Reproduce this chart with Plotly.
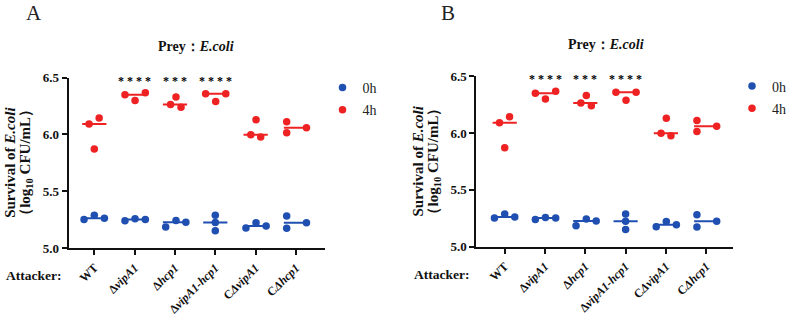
import numpy as np
import plotly.graph_objects as go

# ---------------- data ----------------
categories = ["WT", "ΔvipA1", "Δhcp1", "ΔvipA1-hcp1", "CΔvipA1", "CΔhcp1"]
tick_labels = ["WT", "Δ<i>vipA1</i>", "Δ<i>hcp1</i>", "Δ<i>vipA1-hcp1</i>",
               "C<i>ΔvipA1</i>", "C<i>Δhcp1</i>"]

values_0h = [
    [5.252, 5.288, 5.261],
    [5.240, 5.258, 5.252],
    [5.185, 5.243, 5.226],
    [5.288, 5.225, 5.152],
    [5.176, 5.222, 5.193],
    [5.281, 5.173, 5.223],
]
values_4h = [
    [6.092, 6.145, 5.872],
    [6.350, 6.300, 6.368],
    [6.265, 6.330, 6.240],
    [6.359, 6.290, 6.359],
    [5.998, 6.130, 5.977],
    [6.112, 6.015, 6.060],
]
significance = ["", "****", "***", "****", "", ""]
series_names = ["0h", "4h"]
y_ticks = [5.0, 5.5, 6.0, 6.5]
y_tick_labels = ["5.0", "5.5", "6.0", "6.5"]

# ---------------- layout constants (positions / styles) ----------------
W, H = 786, 316
offsets_0h = [
    [-0.255, 0.0, 0.25],
    [-0.24, 0.01, 0.265],
    [-0.23, 0.025, 0.27],
    [0.0, 0.0, 0.0],
    [-0.24, 0.01, 0.26],
    [-0.23, -0.23, 0.26],
]
offsets_4h = [
    [-0.13, 0.12, 0.0],
    [-0.24, 0.01, 0.265],
    [-0.11, 0.025, 0.15],
    [-0.24, 0.01, 0.26],
    [-0.12, 0.01, 0.125],
    [-0.23, -0.23, 0.26],
]
MED_HALF = 0.3
BLUE = "#1f4fb0"
RED = "#ee2222"
SERIF = "Liberation Serif"

panels = [
    dict(xdom=(68.7, 325.0), ybot=248.0, ytop=77.7, xr=(-0.635, 5.72),
         letter="A", letter_xy=(33.5, 13), title_xy=(195.7, 46.7),
         attacker_xy=(33, 275), ytitle_x=(10, 26), legend_xy=(322.5, 72)),
    dict(xdom=(476.3, 733.0), ybot=246.7, ytop=76.3, xr=(-0.705, 5.665),
         letter="B", letter_xy=(448, 13), title_xy=(606.3, 45),
         attacker_xy=(441.5, 274), ytitle_x=(418, 434), legend_xy=(732, 70.5)),
]


def centered(x_px, y_px, text, size, angle=0, color="#111"):
    return dict(x=x_px / W, y=1 - y_px / H, xref="paper", yref="paper",
                xanchor="center", yanchor="middle", text=text, showarrow=False,
                textangle=angle, font=dict(family=SERIF, size=size, color=color))


fig = go.Figure()
annotations = []
layout_axes = {}

for p_i, P in enumerate(panels):
    sfx = "" if p_i == 0 else str(p_i + 1)
    xa, ya = "x" + sfx, "y" + sfx
    legend_name = "legend" if p_i == 0 else "legend2"
    for s_name, vals, offs, col in [("0h", values_0h, offsets_0h, BLUE),
                                    ("4h", values_4h, offsets_4h, RED)]:
        xs, ys = [], []
        lx, ly = [], []
        for ci, (vv, oo) in enumerate(zip(vals, offs)):
            for v, o in zip(vv, oo):
                xs.append(ci + o)
                ys.append(v)
            med = float(np.median(vv))
            lx += [ci - MED_HALF, ci + MED_HALF, None]
            ly += [med, med, None]
        fig.add_trace(go.Scatter(x=lx, y=ly, mode="lines", xaxis=xa, yaxis=ya,
                                 line=dict(color=col, width=2), showlegend=False,
                                 hoverinfo="skip", cliponaxis=False))
        fig.add_trace(go.Scatter(x=xs, y=ys, mode="markers", xaxis=xa, yaxis=ya,
                                 name=s_name, legend=legend_name, legendgroup=s_name,
                                 marker=dict(color=col, size=7.5), cliponaxis=False))

    x0, x1 = P["xdom"]
    layout_axes["xaxis" + sfx] = dict(
        domain=[x0 / W, x1 / W], range=list(P["xr"]), anchor=ya, automargin=False,
        tickvals=list(range(len(categories))), ticktext=tick_labels, tickangle=-45,
        ticks="outside", ticklen=5, tickwidth=2, tickcolor="#111", ticklabelstandoff=1,
        showline=True, linewidth=2, linecolor="#111", showgrid=False, zeroline=False,
        tickfont=dict(family=SERIF, size=12, color="#111", weight="bold"),
    )
    layout_axes["yaxis" + sfx] = dict(
        domain=[(H - P["ybot"]) / H, (H - P["ytop"]) / H], range=[5.0, 6.5], anchor=xa,
        automargin=False, tickvals=y_ticks, ticktext=y_tick_labels,
        ticks="outside", ticklen=5, tickwidth=2, tickcolor="#111",
        showline=True, linewidth=2, linecolor="#111", showgrid=False, zeroline=False,
        tickfont=dict(family=SERIF, size=13, color="#111", weight="bold"),
    )
    # significance stars
    for ci, s in enumerate(significance):
        if s:
            annotations.append(dict(x=ci, y=6.5, xref=xa, yref=ya,
                                    text="<b>" + " ".join(s) + "</b>",
                                    xanchor="center", yanchor="middle",
                                    showarrow=False, yshift=-3,
                                    font=dict(family=SERIF, size=12, color="#000")))
    annotations.append(centered(*P["letter_xy"], P["letter"], 21, color="#222"))
    annotations.append(centered(*P["title_xy"], "<b>Prey：<i>E.coli</i></b>", 14))
    annotations.append(centered(*P["attacker_xy"], "<b>Attacker:</b>", 13.5))
    ymid = (P["ybot"] + P["ytop"]) / 2
    annotations.append(centered(P["ytitle_x"][0], ymid,
                                "<b>Survival of <i>E.coli</i></b>", 15, angle=-90))
    annotations.append(centered(P["ytitle_x"][1], ymid,
                                "<b>（log<sub>10</sub> CFU/mL）</b>", 15, angle=-90))
    layout_axes[legend_name] = dict(
        x=P["legend_xy"][0] / W, y=1 - P["legend_xy"][1] / H, xanchor="left", yanchor="top",
        font=dict(family=SERIF, size=14, color="#222"), bgcolor="rgba(0,0,0,0)",
        tracegroupgap=1, itemclick=False,
    )

fig.update_layout(
    width=W, height=H, margin=dict(l=0, r=0, t=0, b=0, autoexpand=False),
    paper_bgcolor="white", plot_bgcolor="white",
    showlegend=True, annotations=annotations, **layout_axes,
)

fig.write_html("out.html")
